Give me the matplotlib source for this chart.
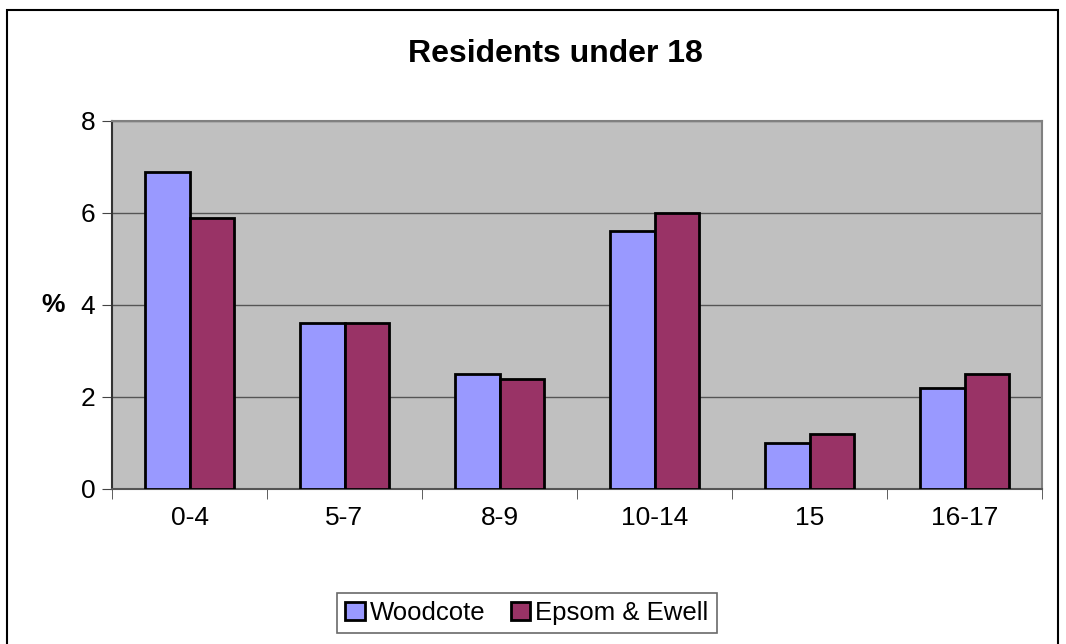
import matplotlib
matplotlib.use("Agg")
from matplotlib import pyplot as plt
from matplotlib.patches import Rectangle
import numpy as np

plt.rcParams['font.family'] = ['Liberation Sans', 'DejaVu Sans']

categories = ['0-4', '5-7', '8-9', '10-14', '15', '16-17']
woodcote = [6.9, 3.6, 2.5, 5.6, 1.0, 2.2]
epsom = [5.9, 3.6, 2.4, 6.0, 1.2, 2.5]
series_names = ['Woodcote', 'Epsom & Ewell']

fig = plt.figure(figsize=(10.66, 6.44), dpi=100)
# outer chart border
fig.patches.append(Rectangle((7 / 1066, -0.05), 1051 / 1066, 1.05 - 10 / 644,
                             transform=fig.transFigure, fill=False,
                             edgecolor='black', linewidth=1.5))

ax = fig.add_axes([112 / 1066, 155 / 644, 930 / 1066, 368 / 644])
ax.set_facecolor('#C0C0C0')

x = np.arange(len(categories))
w = 0.285
ax.bar(x - w / 2, woodcote, w, color='#9999FF', edgecolor='black',
       linewidth=2, label=series_names[0], zorder=3)
ax.bar(x + w / 2, epsom, w, color='#993366', edgecolor='black',
       linewidth=2, label=series_names[1], zorder=3)

ax.set_xlim(-0.5, len(categories) - 0.5)
ax.set_ylim(0, 8)
ax.set_yticks([0, 2, 4, 6, 8])
ax.yaxis.grid(True, color='#555555', linewidth=1, zorder=1)

ax.set_xticks(x)
ax.set_xticklabels(categories, fontsize=19)
ax.tick_params(axis='x', length=0, pad=12)
ax.set_xticks(np.arange(-0.5, len(categories)), minor=True)
ax.tick_params(axis='x', which='minor', length=7, color='#444444', direction='out')
ax.tick_params(axis='y', labelsize=19, length=7, color='#444444', direction='out', pad=5)

for s in ['top', 'right']:
    ax.spines[s].set_color('#808080')
    ax.spines[s].set_linewidth(1.5)
ax.spines['left'].set_color('#333333')
ax.spines['left'].set_linewidth(1.5)
ax.spines['bottom'].set_color('#555555')
ax.spines['bottom'].set_linewidth(1.5)

ax.set_ylabel('%', fontsize=19, fontweight='bold', rotation=0, labelpad=20, va='center')
fig.text(555 / 1066, 1 - 54 / 644, 'Residents under 18', ha='center', va='center',
         fontsize=23, fontweight='bold')

leg = fig.legend(loc='center', bbox_to_anchor=(527 / 1066, 1 - 613 / 644), ncol=2,
                 fontsize=18.5, frameon=True, fancybox=False, edgecolor='#444444',
                 handlelength=0.75, handleheight=0.75, handletextpad=0.2,
                 columnspacing=1.0, borderpad=0.32)
leg.get_frame().set_linewidth(1.2)

fig.savefig('out.png', dpi=100)
